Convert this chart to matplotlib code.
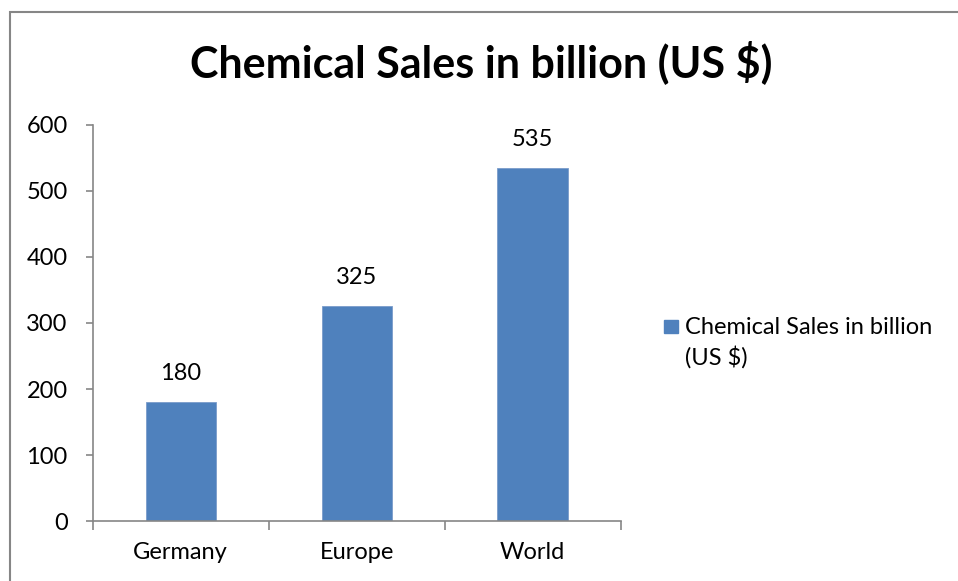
import matplotlib
matplotlib.use("Agg")
import matplotlib.pyplot as plt
from matplotlib.patches import Rectangle
import numpy as np

# Chart data
categories = ["Germany", "Europe", "World"]
sales = [180, 325, 535]
series_name = "Chemical Sales in billion (US $)"
y_ticks = [0, 100, 200, 300, 400, 500, 600]

#-------------------------------------------------------------------------------

W, H = 958, 581
BAR_COLOR = "#4F81BD"
AXIS_COLOR = "#868686"
FS = 17

def fx(px):
  """ Pixel column -> figure fraction """
  return px / W

def fy(py):
  """ Pixel row (from top) -> figure fraction """
  return 1 - py / H

def main():
  plt.rcParams['font.family'] = ['Lato', 'DejaVu Sans']

  fig = plt.figure(figsize=(W/100, H/100), dpi=100)

  # Chart frame, only the left and top edges fall inside the image
  fig.add_artist(Rectangle((fx(10), fy(H+20)), 2.0, fy(12) - fy(H+20),
                           transform=fig.transFigure, fill=False,
                           edgecolor=AXIS_COLOR, linewidth=1.5))

  ax = fig.add_axes([fx(92.7), fy(521), fx(620.7)-fx(92.7), fy(125)-fy(521)])

  x = np.arange(len(categories)) + 0.5
  bars = ax.bar(x, sales, width=0.4, color=BAR_COLOR, edgecolor="#7A9CCB",
                linewidth=0.6, zorder=2)

  for b, v in zip(bars, sales):
    ax.annotate(str(v), (b.get_x() + b.get_width()/2, v), xytext=(0, 13),
                textcoords="offset points", ha="center", va="bottom",
                fontsize=FS, color="black")

  ax.set_xlim(0, len(categories))
  ax.set_ylim(0, 600)
  ax.set_yticks(y_ticks)
  ax.set_yticklabels([str(t) for t in y_ticks], fontsize=FS)

  # Tick marks on category boundaries, labels in the middle
  ax.set_xticks(np.arange(len(categories) + 1))
  ax.set_xticklabels([])
  ax.set_xticks(x, minor=True)
  ax.set_xticklabels(categories, minor=True, fontsize=FS)
  ax.tick_params(axis="x", which="major", length=6.5, width=1.2,
                 color=AXIS_COLOR, direction="out")
  ax.tick_params(axis="x", which="minor", length=0, pad=15)
  ax.tick_params(axis="y", length=5, width=1.2, color=AXIS_COLOR,
                 direction="out", pad=13)

  for side in ["top", "right"]:
    ax.spines[side].set_visible(False)
  for side in ["left", "bottom"]:
    ax.spines[side].set_color(AXIS_COLOR)
    ax.spines[side].set_linewidth(1.2)

  fig.text(0.502, fy(77), series_name, ha="center", va="baseline",
           fontsize=31, fontweight="bold")

  # Legend entry: square key beside the first line of the label
  fig.add_artist(Rectangle((fx(664), fy(333)), fx(14), fy(320) - fy(333),
                           transform=fig.transFigure, color=BAR_COLOR))
  fig.text(fx(685), fy(334), "Chemical Sales in billion", ha="left",
           va="baseline", fontsize=FS)
  fig.text(fx(685), fy(365), "(US $)", ha="left", va="baseline",
           fontsize=FS)

  fig.savefig("out.png", dpi=100)
  plt.close(fig)

if __name__ == "__main__":
  main()
